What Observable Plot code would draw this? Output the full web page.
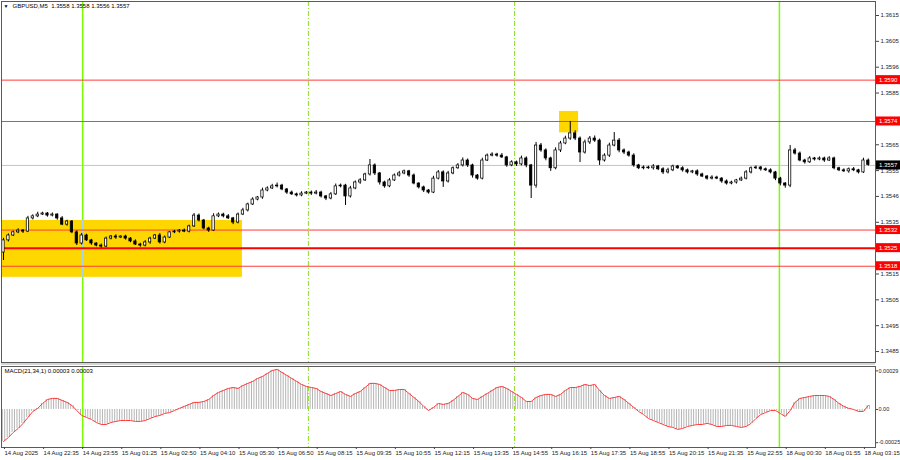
<!DOCTYPE html>
<html><head><meta charset="utf-8">
<script src="https://cdn.jsdelivr.net/npm/d3@7"></script>
<script src="https://cdn.jsdelivr.net/npm/@observablehq/plot@0.6"></script>
<style>
html,body{margin:0;padding:0;background:#fff;}
#wrap{position:relative;width:900px;height:460px;overflow:hidden;background:#fff;font-family:"Liberation Sans",Arial,sans-serif;}
#wrap svg{position:absolute;left:0;}
#sep{position:absolute;left:1px;width:874px;top:363px;height:2px;background:#d4d4d4;}
</style></head><body><div id="wrap"><div id="sep"></div></div>
<script>
// ---- data (GBPUSD M5, one candle per two bars) ----
const title = "GBPUSD,M5  1.3558 1.3558 1.3556 1.3557";
const macdTitle = "MACD(21,34,1) 0.00003 0.00003";
const firstOpen = 1.35233;
const closes = [1.35280,1.35299,1.35311,1.35318,1.35314,1.35365,1.35373,1.35380,1.35384,1.35376,
1.35380,1.35365,1.35341,1.35353,1.35311,1.35268,1.35299,1.35280,1.35268,1.35260,
1.35256,1.35287,1.35295,1.35291,1.35295,1.35287,1.35276,1.35264,1.35260,1.35272,
1.35287,1.35299,1.35272,1.35291,1.35311,1.35314,1.35318,1.35314,1.35334,1.35376,
1.35357,1.35326,1.35318,1.35373,1.35380,1.35373,1.35365,1.35349,1.35380,1.35396,
1.35419,1.35438,1.35446,1.35473,1.35481,1.35489,1.35492,1.35477,1.35465,1.35458,
1.35454,1.35461,1.35465,1.35461,1.35465,1.35450,1.35442,1.35458,1.35489,1.35492,
1.35450,1.35481,1.35504,1.35512,1.35535,1.35570,1.35539,1.35504,1.35489,1.35512,
1.35531,1.35539,1.35547,1.35531,1.35500,1.35485,1.35473,1.35465,1.35519,1.35543,
1.35508,1.35539,1.35559,1.35570,1.35589,1.35570,1.35531,1.35519,1.35589,1.35608,
1.35612,1.35608,1.35601,1.35570,1.35582,1.35574,1.35597,1.35570,1.35492,1.35647,
1.35628,1.35597,1.35559,1.35628,1.35655,1.35674,1.35694,1.35674,1.35620,1.35659,
1.35674,1.35666,1.35589,1.35608,1.35647,1.35666,1.35628,1.35620,1.35608,1.35570,
1.35559,1.35562,1.35559,1.35566,1.35555,1.35543,1.35551,1.35566,1.35559,1.35551,
1.35543,1.35547,1.35535,1.35527,1.35519,1.35523,1.35519,1.35508,1.35500,1.35504,
1.35512,1.35519,1.35543,1.35559,1.35562,1.35555,1.35551,1.35543,1.35519,1.35500,
1.35492,1.35628,1.35616,1.35589,1.35582,1.35597,1.35593,1.35597,1.35589,1.35597,
1.35559,1.35551,1.35547,1.35555,1.35551,1.35543,1.35589,1.35572];
// wick lengths in pipettes (0.00001)
const wickUp = [8,6,5,7,4,8,6,9,5,4, 6,3,7,5,4,6,8,5,4,3, 6,6,4,7,3,5,4,6,5,7, 5,4,8,6,3,5,4,6,5,8,
6,4,5,10,6,5,7,4,6,8, 5,7,4,9,6,8,10,5,4,6, 5,7,4,6,8,5,4,7,9,6, 5,8,6,7,5,23,6,4,5,7,
6,8,5,4,6,3,5,4,9,7, 6,8,5,7,10,6,5,4,9,6, 7,5,8,4,6,5,9,6,4,12, 8,6,5,10,8,9,46,10,6,9,
8,10,6,7,9,31,8,6,5,7, 4,6,5,7,4,6,8,5,4,6, 5,4,6,5,4,7,5,4,6,5, 4,6,7,5,6,4,5,6,4,5,
4,19,8,6,5,7,4,6,5,7, 5,4,6,5,7,4,9,6];
const wickDn = [31,6,4,5,7,4,6,5,4,6, 5,7,4,6,5,8,6,4,7,5, 6,4,5,7,4,6,5,4,6,5, 7,4,6,5,4,5,6,4,5,4,
6,5,7,4,5,6,4,8,5,4, 6,4,5,7,5,4,6,5,7,4, 6,5,4,7,5,6,8,5,4,6, 35,6,5,7,4,6,8,10,7,5,
4,6,5,7,5,6,8,6,4,5, 23,6,5,4,6,8,10,6,5,4, 5,6,4,7,5,8,6,9,50,10, 7,9,12,6,8,5,7,8,39,6,
8,7,19,6,7,5,9,8,6,7, 5,6,4,7,5,8,6,5,4,7, 6,5,7,4,6,5,4,7,6,5, 6,4,5,6,5,7,4,6,8,9,
10,8,6,5,7,4,6,5,7,4, 6,5,4,7,5,6,4,5];
const macd = [-0.000241,-0.000211,-0.000173,-0.000143,-0.000105,-0.000060,-0.000015,0.000008,0.000045,0.000075,
0.000083,0.000083,0.000068,0.000053,0.000030,-0.000008,-0.000045,-0.000060,-0.000075,-0.000098,
-0.000113,-0.000113,-0.000098,-0.000090,-0.000083,-0.000083,-0.000083,-0.000090,-0.000090,-0.000083,
-0.000068,-0.000053,-0.000045,-0.000030,-0.000023,-0.000008,0.000008,0.000023,0.000038,0.000053,
0.000053,0.000060,0.000075,0.000105,0.000128,0.000143,0.000158,0.000165,0.000158,0.000180,
0.000196,0.000211,0.000233,0.000248,0.000271,0.000293,0.000301,0.000278,0.000256,0.000233,
0.000211,0.000188,0.000173,0.000165,0.000158,0.000135,0.000120,0.000105,0.000120,0.000135,
0.000113,0.000098,0.000120,0.000135,0.000165,0.000196,0.000196,0.000188,0.000165,0.000143,
0.000143,0.000150,0.000150,0.000120,0.000090,0.000060,0.000023,-0.000008,0.000015,0.000045,
0.000038,0.000045,0.000068,0.000098,0.000128,0.000113,0.000083,0.000075,0.000098,0.000120,
0.000143,0.000165,0.000173,0.000158,0.000135,0.000113,0.000090,0.000060,0.000060,0.000090,
0.000105,0.000113,0.000113,0.000098,0.000113,0.000143,0.000165,0.000165,0.000173,0.000188,
0.000180,0.000188,0.000143,0.000105,0.000083,0.000090,0.000098,0.000075,0.000045,0.000015,
-0.000015,-0.000038,-0.000068,-0.000083,-0.000098,-0.000113,-0.000128,-0.000135,-0.000150,-0.000143,
-0.000128,-0.000120,-0.000113,-0.000113,-0.000105,-0.000113,-0.000128,-0.000128,-0.000120,-0.000120,
-0.000128,-0.000135,-0.000128,-0.000105,-0.000068,-0.000038,-0.000023,-0.000008,-0.000008,-0.000030,
-0.000053,-0.000008,0.000053,0.000083,0.000090,0.000098,0.000105,0.000105,0.000105,0.000098,
0.000075,0.000045,0.000023,0.000008,0.000000,-0.000015,-0.000015,0.000030];
const timeLabels = ["14 Aug 2025","14 Aug 22:35","14 Aug 23:55","15 Aug 01:25","15 Aug 02:50","15 Aug 04:10",
"15 Aug 05:30","15 Aug 06:50","15 Aug 08:15","15 Aug 09:35","15 Aug 10:55","15 Aug 12:15","15 Aug 13:35",
"15 Aug 14:55","15 Aug 16:15","15 Aug 17:35","15 Aug 18:55","15 Aug 20:15","15 Aug 21:35","15 Aug 22:55",
"18 Aug 00:30","18 Aug 01:55","18 Aug 03:15"];
const timeTickBar = [0,8,16,24,32,40,48,56,64,72,80,88,96,104,112,120,128,136,144,152,160,168,176];
const priceTicks = [1.3615,1.3605,1.3595,1.3585,1.3565,1.3555,1.3545,1.3535,1.3515,1.3505,1.3495,1.3485];
const priceTickLabels = ["1.3615","1.3605","1.3596","1.3585","1.3565","1.3555","1.3546","1.3535","1.3515","1.3505","1.3495","1.3485"];
const macdTicks = [0.00029, 0, -0.00025];
const macdTickLabels = ["0.00029","0.00","-0.00025"];
const levels = [1.3590, 1.3574, 1.3532, 1.3518];
const mainLevel = [1.3525];
const levelLabels = ["1.3590","1.3574","1.3532","1.3518","1.3525"];
const lastPrice = 1.3557;
const lastLabel = "1.3557";
const vSolid = [16.2, 158.8];   // bar positions
const vDash = [62.4, 104.6];
const zones = [
  {x1: -1, x2: 48.9, y1: 1.35137, y2: 1.35357},
  {x1: 113.8, x2: 117.7, y1: 1.35696, y2: 1.35779}
];

// ---- build ----
const candles = closes.map((c, i) => {
  const o = i ? closes[i - 1] : firstOpen;
  return {i, o, c, h: Math.max(o, c) + wickUp[i] * 1e-5, l: Math.min(o, c) - wickDn[i] * 1e-5};
});
const bull = candles.filter(d => d.c >= d.o), bear = candles.filter(d => d.c < d.o);
const macdData = macd.map((v, i) => ({i, v}));
const fmtP = new Map(priceTicks.map((v, i) => [v, priceTickLabels[i]]));
const fmtM = new Map(macdTicks.map((v, i) => [v, macdTickLabels[i]]));
const fmtT = new Map(timeTickBar.map((v, i) => [v, timeLabels[i]]));
const X_DOMAIN = [-0.41, 178.47];
const FONT = "Liberation Sans, Arial, sans-serif";
const GREEN = "#7cfc00", DASHGREEN = "#8edc2a", RED = "#ff3b3b";
const HW = 0.24; // candle half width, in bars

const main = Plot.plot({
  width: 900, height: 363, marginLeft: 1, marginRight: 25, marginTop: 1, marginBottom: 1,
  style: {fontFamily: FONT, fontSize: "6px", color: "#000", background: "transparent", overflow: "visible"},
  x: {domain: X_DOMAIN, axis: null},
  y: {domain: [1.348076, 1.362042], axis: null},
  marks: [
    Plot.rect(zones, {x1: "x1", x2: "x2", y1: "y1", y2: "y2", fill: "#ffd700", clip: true}),
    Plot.ruleY([lastPrice], {stroke: "#c4c4c4", strokeWidth: 1}),
    Plot.ruleX(vSolid, {stroke: GREEN, strokeWidth: 1.5}),
    Plot.ruleX([vSolid[0]], {y1: zones[0].y1, y2: zones[0].y2, stroke: "#a6d6f2", strokeWidth: 1.5}),
    Plot.ruleX(vDash, {stroke: DASHGREEN, strokeWidth: 1, strokeDasharray: "5,2,1,2"}),
    Plot.ruleY(levels, {stroke: RED, strokeWidth: 1}),
    Plot.ruleY(mainLevel, {stroke: "#f00", strokeWidth: 2}),
    Plot.ruleX(candles, {x: "i", y1: "l", y2: "h", stroke: "#000", strokeWidth: 1}),
    Plot.rect(bull, {x1: d => d.i - HW, x2: d => d.i + HW, y1: "o", y2: "c", fill: "#fff", stroke: "#000", strokeWidth: 0.75}),
    Plot.rect(bear, {x1: d => d.i - HW, x2: d => d.i + HW, y1: "o", y2: "c", fill: "#000", stroke: "#000", strokeWidth: 0.75}),
    Plot.frame({stroke: "#5a5a5a"}),
    Plot.axisY(priceTicks, {anchor: "right", tickSize: 3, tickPadding: 2, tickFormat: d => fmtP.get(d), label: null, stroke: "#444", fill: "#222"}),
    Plot.text(["\u25BC"], {frameAnchor: "top-left", dx: 2, dy: 3, fontSize: 5, fill: "#000"}),
    Plot.text([title], {frameAnchor: "top-left", dx: 11, dy: 2.5, fontSize: 6, fill: "#000"})
  ]
});
main.style.top = "0px";
document.getElementById("wrap").appendChild(main);

// price level labels, placed with the plot's own y scale
const sy = main.scale("y");
const g = d3.select(main).append("g").attr("text-anchor", "start");
const boxLevels = levels.concat(mainLevel).map((v, i) => ({v, t: levelLabels[i], fill: "#f00"}));
boxLevels.push({v: lastPrice, t: lastLabel, fill: "#000"});
for (const b of boxLevels) {
  const y = sy.apply(b.v);
  g.append("rect").attr("x", 876).attr("y", y - 4.5).attr("width", 24).attr("height", 9).attr("fill", b.fill);
  g.append("text").attr("x", 879).attr("y", y + 2.2).attr("fill", "#fff").attr("font-size", 6)
    .attr("font-family", FONT).attr("text-anchor", "start").text(b.t);
}

const sub = Plot.plot({
  width: 900, height: 95, marginLeft: 1, marginRight: 25, marginTop: 1, marginBottom: 13,
  style: {fontFamily: FONT, fontSize: "6px", color: "#000", background: "transparent", overflow: "visible"},
  x: {domain: X_DOMAIN, axis: null},
  y: {domain: [-0.000286, 0.000323], axis: null},
  marks: [
    Plot.ruleX(macdData, {x: "i", y1: 0, y2: "v", stroke: "#b4b4b4", strokeWidth: 1, dx: -1.2}),
    Plot.ruleX(macdData, {x: "i", y1: 0, y2: "v", stroke: "#b4b4b4", strokeWidth: 1, dx: 1.2}),
    Plot.ruleX(vSolid, {stroke: GREEN, strokeWidth: 1.5}),
    Plot.ruleX(vDash, {stroke: DASHGREEN, strokeWidth: 1, strokeDasharray: "5,2,1,2"}),
    Plot.line(macdData, {x: "i", y: "v", stroke: RED, strokeWidth: 1}),
    Plot.frame({stroke: "#5a5a5a"}),
    Plot.axisY(macdTicks, {anchor: "right", tickSize: 2, tickPadding: 1, fontSize: 5.5, tickFormat: d => fmtM.get(d), label: null, stroke: "#444", fill: "#222"}),
    Plot.axisX(timeTickBar, {anchor: "bottom", tickSize: 2, tickPadding: 1, tickFormat: d => fmtT.get(d), textAnchor: "start", dx: 1, label: null, stroke: "#444", fill: "#222"}),
    Plot.text([macdTitle], {frameAnchor: "top-left", dx: 3, dy: 2.5, fontSize: 6, fill: "#000"})
  ]
});
sub.style.top = "365px";
document.getElementById("wrap").appendChild(sub);
</script>
</body></html>
